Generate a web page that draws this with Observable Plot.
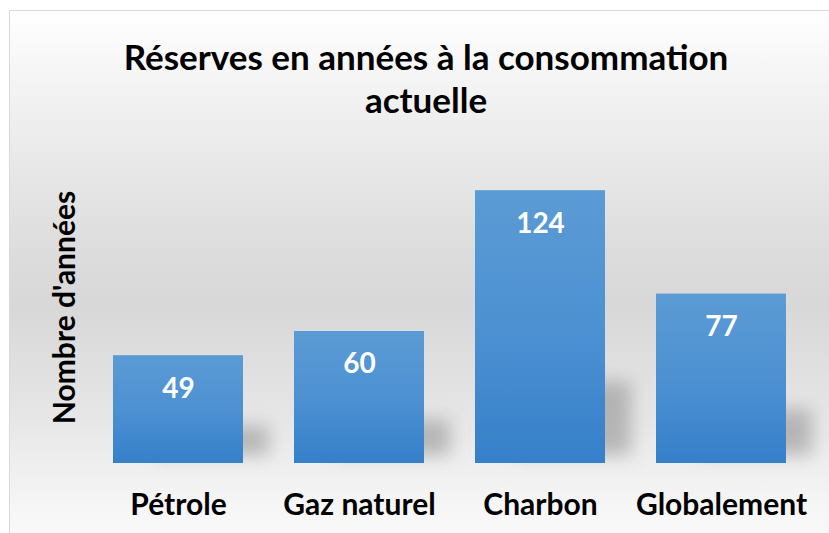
<!DOCTYPE html>
<html>
<head>
<meta charset="utf-8">
<script src="https://cdn.jsdelivr.net/npm/d3@7"></script>
<script src="https://cdn.jsdelivr.net/npm/@observablehq/plot@0.6"></script>
<style>
  html, body { margin: 0; padding: 0; background: #fff; }
  #wrap { position: relative; width: 829px; height: 533px; overflow: hidden; background: #fff; font-family: Lato, "Open Sans", sans-serif; }
  #box { position: absolute; left: 9px; top: 10px; width: 840px; height: 540px; border: 1px solid #d9d9d9;
    background: linear-gradient(to bottom, #ffffff 0%, #f0f0f0 18%, #dcdcdc 45%, #d8d8d8 55%, #e6e6e6 75%, #f6f6f6 92%, #fafafa 100%); }
  #title { position: absolute; left: 26px; width: 800px; top: 35px; text-align: center; font-weight: 700; font-size: 35px; line-height: 43px; color: #000; }
  #chart { position: absolute; left: 0; top: 0; }
</style>
</head>
<body>
<div id="wrap">
  <div id="box"></div>
  <div id="title">Réserves en années à la consommation<br>actuelle</div>
  <div id="chart"></div>
</div>
<script>
const categories = ["Pétrole", "Gaz naturel", "Charbon", "Globalement"];
const values = [49, 60, 124, 77];
const yLabel = "Nombre d'années";

const data = categories.map((c, i) => ({cat: c, v: values[i]}));

const svg = Plot.plot({
  width: 829,
  height: 533,
  marginLeft: 86,
  marginRight: 17,
  marginTop: 155,
  marginBottom: 70,
  style: {background: "transparent", fontFamily: "Lato, 'Open Sans', sans-serif"},
  x: {domain: categories, paddingInner: 0.283, paddingOuter: 0.1415, label: null},
  y: {domain: [0, 140], axis: null},
  marks: [
    Plot.rectY(data, {x: "cat", y: d => d.v * 0.27, fill: "#8a8a8a", fillOpacity: 0.55, dx: 26, dy: -8, insetLeft: 16}),
    Plot.rectY(data, {x: "cat", y: "v", fill: "url(#barGrad)"}),
    Plot.text(data, {x: "cat", y: "v", text: d => String(d.v), dy: 33, fill: "white", fontSize: 28, fontWeight: "bold"}),
    Plot.axisX({tickSize: 0, tickPadding: 30, fontSize: 30, fontWeight: "bold", fill: "#000"}),
    Plot.text([yLabel], {frameAnchor: "left", dx: -21, dy: -2, rotate: -90, textAnchor: "middle", fontSize: 30, fontWeight: "bold", fill: "#000"})
  ]
});

const ns = "http://www.w3.org/2000/svg";
const defs = document.createElementNS(ns, "defs");
defs.innerHTML = `
  <linearGradient id="barGrad" x1="0" y1="0" x2="0" y2="1">
    <stop offset="0" stop-color="#5b9bd5"/>
    <stop offset="0.5" stop-color="#4d91d2"/>
    <stop offset="1" stop-color="#3580ca"/>
  </linearGradient>
  <filter id="shadowBlur" x="-50%" y="-50%" width="200%" height="200%">
    <feGaussianBlur stdDeviation="9"/>
  </filter>`;
svg.insertBefore(defs, svg.firstChild);
const rects = svg.querySelectorAll('g[aria-label="rect"]');
if (rects.length) rects[0].setAttribute("filter", "url(#shadowBlur)");
rects.forEach((g, i) => { if (i > 0) g.querySelectorAll("rect").forEach(r => r.setAttribute("fill", "url(#barGrad)")); });

document.getElementById("chart").appendChild(svg);
</script>
</body>
</html>
